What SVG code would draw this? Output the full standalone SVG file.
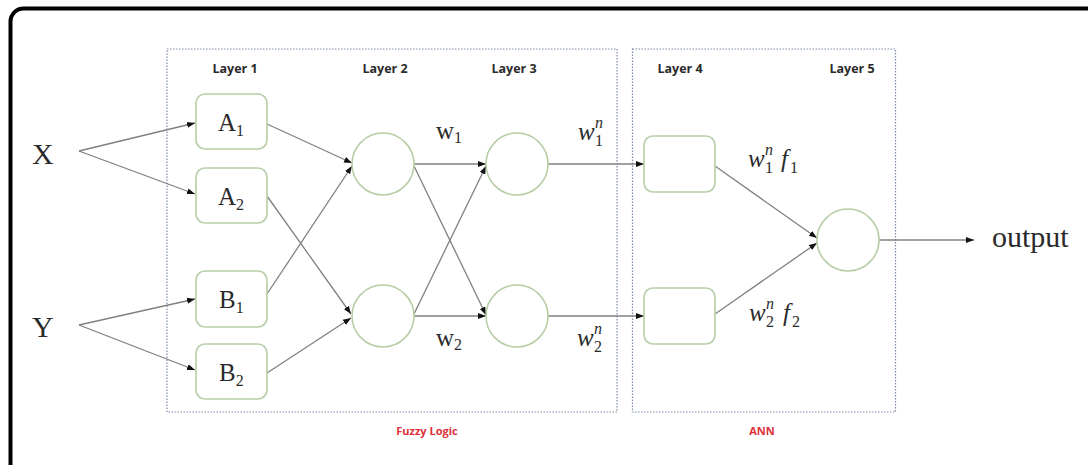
<svg xmlns="http://www.w3.org/2000/svg" width="1088" height="465" viewBox="0 0 1088 465">
  <style>
    .frame { fill: none; stroke: #000; stroke-width: 4; }
    .group { fill: none; stroke: #7d8aa6; stroke-width: 1.2; stroke-dasharray: 1.5 1.5; }
    .node { fill: #fff; stroke: #b7cda6; stroke-width: 1.6; }
    .link { fill: none; stroke: #808080; stroke-width: 1.3; marker-end: url(#tip); }
    .layer { font-family: "Open Sans", "Liberation Sans", sans-serif; font-weight: bold; font-size: 12.5px; fill: #2a2a2a; text-anchor: middle; }
    .caption { font-family: "Open Sans", "Liberation Sans", sans-serif; font-weight: bold; font-size: 11px; fill: #e0303a; text-anchor: middle; }
    .math { font-family: "Liberation Serif", "DejaVu Serif", serif; fill: #2a2a2a; }
    .big { font-size: 30px; }
    .mid { font-size: 25px; }
    .small { font-size: 16px; }
    .it { font-style: italic; }
  </style>
  <defs>
    <marker id="tip" markerUnits="userSpaceOnUse" markerWidth="9" markerHeight="8" refX="8" refY="4" orient="auto">
      <path d="M0,1 L8,4 L0,7 Z" fill="#111"/>
    </marker>
  </defs>

  <rect width="1088" height="465" fill="#fff"/>

  <!-- page frame -->
  <rect class="frame" x="10.5" y="8.5" width="1200" height="600" rx="13"/>

  <!-- layer groupings -->
  <g id="fuzzy-logic">
    <rect class="group" x="167" y="49" width="450" height="363"/>
    <text class="caption" x="427" y="435">Fuzzy Logic</text>
  </g>
  <g id="ann">
    <rect class="group" x="632.5" y="49" width="263" height="363"/>
    <text class="caption" x="762" y="435">ANN</text>
  </g>

  <!-- layer headings -->
  <g id="layer-labels">
    <text class="layer" x="235" y="73">Layer 1</text>
    <text class="layer" x="385" y="73">Layer 2</text>
    <text class="layer" x="514" y="73">Layer 3</text>
    <text class="layer" x="680" y="73">Layer 4</text>
    <text class="layer" x="852" y="73">Layer 5</text>
  </g>

  <!-- connectors -->
  <g id="connectors">
    <path class="link" d="M79,151 L195,123"/>
    <path class="link" d="M79,151 L195,194"/>
    <path class="link" d="M79,325 L195,299"/>
    <path class="link" d="M79,325 L195,370"/>

    <path class="link" d="M267,124 L352,163"/>
    <path class="link" d="M267,294 L352,166"/>
    <path class="link" d="M267,196 L351,314"/>
    <path class="link" d="M267,373 L351,318"/>

    <path class="link" d="M414,164 L486,164"/>
    <path class="link" d="M414,166 L486,315"/>
    <path class="link" d="M414,314 L486,166"/>
    <path class="link" d="M414,316 L486,316"/>

    <path class="link" d="M548,164 L644,164"/>
    <path class="link" d="M548,316 L644,316"/>

    <path class="link" d="M715,166 L817,238"/>
    <path class="link" d="M715,314 L817,243"/>

    <path class="link" d="M879,240 L974,240"/>
  </g>

  <!-- inputs -->
  <g id="input-x"><text class="math big" x="32" y="164">X</text></g>
  <g id="input-y"><text class="math big" x="32" y="337">Y</text></g>

  <!-- layer 1: membership nodes -->
  <g id="a1">
    <rect class="node" x="196" y="94" width="71" height="55" rx="9"/>
    <text class="math mid" x="218" y="131">A<tspan class="small" dy="5">1</tspan></text>
  </g>
  <g id="a2">
    <rect class="node" x="196" y="168" width="71" height="55" rx="9"/>
    <text class="math mid" x="218" y="205">A<tspan class="small" dy="5">2</tspan></text>
  </g>
  <g id="b1">
    <rect class="node" x="196" y="271" width="71" height="56" rx="9"/>
    <text class="math mid" x="219" y="308">B<tspan class="small" dy="5">1</tspan></text>
  </g>
  <g id="b2">
    <rect class="node" x="196" y="344" width="71" height="55" rx="9"/>
    <text class="math mid" x="219" y="381">B<tspan class="small" dy="5">2</tspan></text>
  </g>

  <!-- layer 2: rule nodes -->
  <g id="rule-1"><circle class="node" cx="383" cy="164" r="31"/></g>
  <g id="rule-2"><circle class="node" cx="383" cy="316" r="31"/></g>

  <!-- layer 3: normalisation nodes -->
  <g id="norm-1"><circle class="node" cx="517" cy="164" r="31"/></g>
  <g id="norm-2"><circle class="node" cx="517" cy="316" r="31"/></g>

  <!-- layer 4: consequent nodes -->
  <g id="conseq-1"><rect class="node" x="644" y="136" width="71" height="56" rx="9"/></g>
  <g id="conseq-2"><rect class="node" x="644" y="288" width="71" height="56" rx="9"/></g>

  <!-- layer 5: summation node -->
  <g id="sum"><circle class="node" cx="848" cy="240" r="31"/></g>

  <!-- output -->
  <g id="output"><text class="math big" x="992" y="247">output</text></g>

  <!-- weight labels -->
  <g id="weight-labels">
    <text class="math mid" x="436" y="139">w<tspan class="small" dy="4">1</tspan></text>
    <text class="math mid" x="436" y="346">w<tspan class="small" dy="4">2</tspan></text>

    <text class="math mid it" x="578" y="140">w</text>
    <text class="math small it" x="595" y="128">n</text>
    <text class="math small" x="595" y="146">1</text>

    <text class="math mid it" x="577" y="346">w</text>
    <text class="math small it" x="594" y="334">n</text>
    <text class="math small" x="594" y="352">2</text>

    <text class="math mid it" x="748" y="167">w</text>
    <text class="math small it" x="765" y="155">n</text>
    <text class="math small" x="765" y="173">1</text>
    <text class="math mid it" x="781" y="167">f</text>
    <text class="math small" x="790" y="173">1</text>

    <text class="math mid it" x="749" y="321">w</text>
    <text class="math small it" x="766" y="309">n</text>
    <text class="math small" x="766" y="327">2</text>
    <text class="math mid it" x="783" y="321">f</text>
    <text class="math small" x="792" y="327">2</text>
  </g>
</svg>
